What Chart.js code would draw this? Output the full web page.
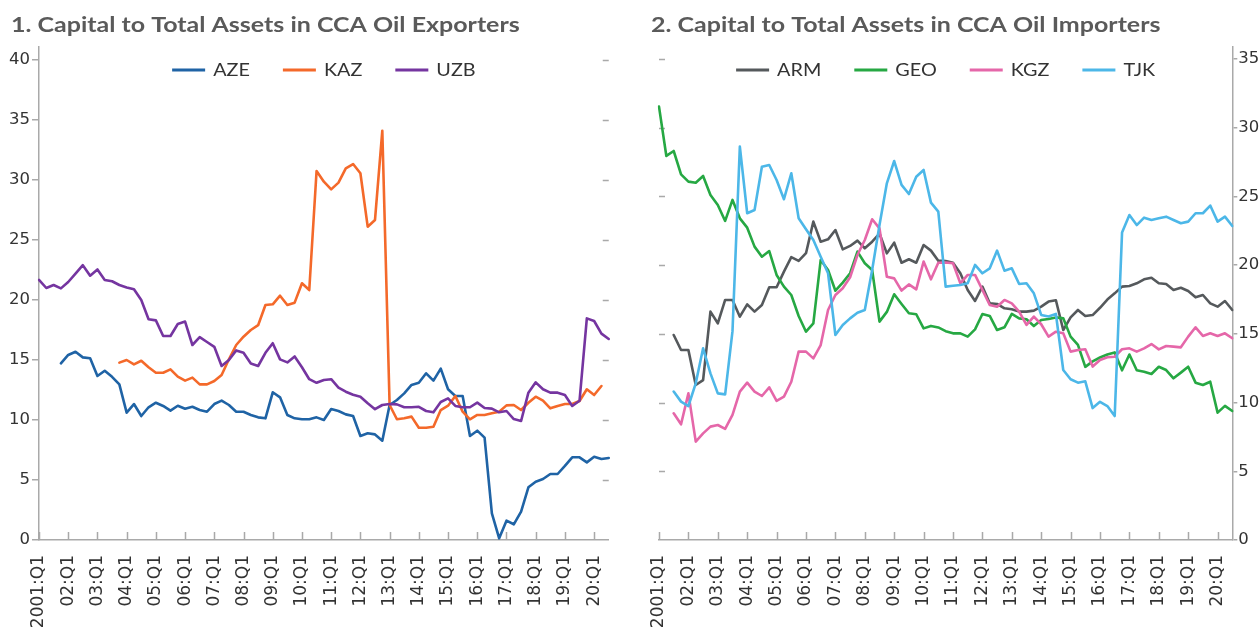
<!DOCTYPE html>
<html><head><meta charset="utf-8">
<script src="https://cdn.jsdelivr.net/npm/chart.js@4.4.1/dist/chart.umd.min.js"></script>
<style>
html,body{margin:0;padding:0;background:#fff;overflow:hidden;}
#wrap{position:relative;width:1260px;height:629px;}
canvas{position:absolute;top:0;}
#c1{left:0;} #c2{left:630px;}
</style></head><body>
<div id="wrap"><canvas id="c1" width="630" height="629"></canvas><canvas id="c2" width="630" height="629"></canvas></div>
<script>
// ---------- categories & tick labels ----------
const QUARTERS = [];
for (let y = 2001; y <= 2020; y++) for (let q = 1; q <= 4; q++) QUARTERS.push(y + ':Q' + q);
QUARTERS.length = 79; // 2001:Q1 .. 2020:Q3
const TICK_LABELS = ['2001:Q1','02:Q1','03:Q1','04:Q1','05:Q1','06:Q1','07:Q1','08:Q1','09:Q1','10:Q1',
  '11:Q1','12:Q1','13:Q1','14:Q1','15:Q1','16:Q1','17:Q1','18:Q1','19:Q1','20:Q1'];
const LEFT_Y_TICKS = [0,5,10,15,20,25,30,35,40];
const RIGHT_Y_TICKS = [0,5,10,15,20,25,30,35];

// ---------- Panel 1: oil exporters ----------
const AZE = [null,null,null,14.72,15.42,15.69,15.22,15.14,13.67,14.1,
  13.6,12.97,10.61,11.33,10.33,11.06,11.44,11.17,10.78,11.19,
  10.94,11.1,10.83,10.69,11.33,11.61,11.25,10.69,10.69,10.42,
  10.22,10.14,12.31,11.89,10.42,10.14,10.06,10.06,10.22,10.0,
  10.92,10.75,10.47,10.33,8.67,8.89,8.8,8.28,11.25,11.67,
  12.22,12.92,13.11,13.89,13.28,14.28,12.56,12.0,12.0,8.67,
  9.11,8.53,2.22,0.14,1.61,1.31,2.36,4.39,4.86,5.08,
  5.5,5.5,6.17,6.89,6.89,6.47,6.94,6.75,6.83];
const KAZ = [null,null,null,null,null,null,null,null,null,null,
  null,14.78,15.0,14.64,14.94,14.39,13.94,13.94,14.22,13.61,
  13.28,13.53,12.97,12.97,13.25,13.75,15.06,16.25,16.94,17.5,
  17.9,19.58,19.64,20.36,19.58,19.78,21.39,20.83,30.75,29.86,
  29.22,29.78,30.97,31.33,30.56,26.11,26.67,34.11,11.25,10.06,
  10.14,10.28,9.36,9.36,9.44,10.83,11.19,12.0,10.69,10.06,
  10.42,10.42,10.56,10.69,11.22,11.25,10.83,11.44,11.94,11.61,
  10.97,11.17,11.33,11.33,11.58,12.56,12.08,12.83,null];
const UZB = [21.67,21.0,21.25,20.97,21.5,22.2,22.9,22.03,22.55,21.67,
  21.56,21.25,21.05,20.9,20.0,18.4,18.3,17.0,17.0,18.0,
  18.2,16.25,16.9,16.5,16.1,14.5,15.0,15.8,15.6,14.7,
  14.5,15.6,16.4,15.05,14.8,15.3,14.4,13.4,13.1,13.33,
  13.4,12.7,12.36,12.1,11.94,11.39,10.9,11.25,11.33,11.3,
  11.06,11.06,11.1,10.75,10.64,11.5,11.8,11.17,11.06,11.06,
  11.45,11.0,10.95,10.64,10.75,10.08,9.92,12.28,13.14,12.56,
  12.28,12.28,12.08,11.17,11.6,18.47,18.25,17.2,16.75];

// ---------- Panel 2: oil importers ----------
const ARM = [null,null,14.92,13.83,13.83,11.28,11.64,16.62,15.77,17.47,
  17.47,16.25,17.15,16.62,17.1,18.39,18.39,19.53,20.58,20.31,
  20.87,23.17,21.71,21.88,22.56,21.15,21.4,21.79,21.23,21.71,
  22.3,20.86,21.64,20.18,20.43,20.18,21.47,21.06,20.33,20.3,
  20.18,19.41,18.2,17.4,18.44,17.22,17.18,16.86,16.79,16.62,
  16.62,16.69,16.98,17.35,17.45,15.28,16.2,16.74,16.3,16.37,
  16.9,17.5,17.95,18.44,18.49,18.68,18.97,19.09,18.68,18.63,
  18.2,18.36,18.12,17.66,17.83,17.22,16.98,17.39,16.74];
const GEO = [31.54,27.95,28.31,26.61,26.08,26.0,26.49,25.11,24.38,23.22,
  24.75,23.41,22.73,21.35,20.62,21.03,19.29,18.44,17.83,16.3,
  15.16,15.77,20.38,19.65,18.14,18.73,19.41,20.99,20.14,19.65,
  15.89,16.6,17.88,17.18,16.5,16.43,15.4,15.58,15.47,15.2,
  15.04,15.04,14.8,15.33,16.45,16.31,15.28,15.48,16.45,16.13,
  16.06,15.57,16.01,16.08,16.2,16.13,14.8,14.2,12.6,13.0,
  13.28,13.5,13.65,12.35,13.5,12.35,12.25,12.08,12.61,12.37,
  11.77,12.18,12.61,11.45,11.28,11.52,9.27,9.76,9.39];
const KGZ = [null,null,9.22,8.42,10.67,7.16,7.76,8.25,8.37,8.08,
  9.1,10.8,11.45,10.8,10.48,11.11,10.12,10.43,11.52,13.71,
  13.71,13.22,14.19,16.74,17.83,18.32,19.12,20.74,21.83,23.34,
  22.68,19.16,19.04,18.15,18.6,18.24,20.26,18.97,20.18,20.2,
  20.14,18.68,19.29,19.29,18.2,17.1,16.98,17.47,17.22,16.62,
  15.65,16.26,15.7,14.8,15.16,15.04,13.71,13.83,13.88,12.62,
  13.1,13.3,13.34,13.88,13.95,13.71,13.95,14.26,13.87,14.12,
  14.07,14.02,14.8,15.48,14.85,15.04,14.85,15.04,14.68];
const TJK = [null,null,10.8,10.07,9.75,11.4,13.95,12.13,10.67,10.6,
  15.2,28.63,23.78,24.02,27.17,27.29,26.2,24.8,26.69,23.41,
  22.61,21.83,20.62,19.41,14.92,15.65,16.13,16.54,16.74,19.65,
  22.93,25.96,27.58,25.84,25.18,26.44,26.93,24.55,23.9,18.44,
  18.5,18.56,18.68,20.02,19.41,19.77,21.06,19.6,19.77,18.63,
  18.68,17.95,16.38,16.26,16.45,12.37,11.7,11.45,11.55,9.6,
  10.06,9.75,9.02,22.37,23.65,22.92,23.46,23.29,23.41,23.53,
  23.29,23.05,23.17,23.78,23.78,24.34,23.17,23.53,22.85];

// ---------- styling ----------
const FONT = 'Lato';
const TICK_FONT = 'DejaVu Sans';
const AXIS = '#a9a9a9';
const TEXT = '#333333';
const STRETCH = 1.19; // glyphs in the reference are wide
Chart.defaults.font.family = TICK_FONT;

function wideText(ctx, text, x, y, sx) {
  ctx.save();
  ctx.translate(x, y);
  ctx.scale(sx, 1);
  ctx.fillText(text, 0, 0);
  ctx.restore();
}

const deco = {
  id: 'panelDeco',
  beforeDatasetsDraw(chart, args, o) {
    const {ctx, chartArea: a, scales} = chart;
    const xs = scales.x, ys = scales.y;
    ctx.save();
    ctx.strokeStyle = AXIS; ctx.lineWidth = 1.5;
    ctx.beginPath();
    for (let i = 0; i < QUARTERS.length; i += 4) {
      const x = Math.round(xs.getPixelForValue(i)) + 0.5;
      ctx.moveTo(x, a.bottom); ctx.lineTo(x, a.bottom - 8);
    }
    o.ticks.forEach(v => {
      if (v === 0) return;
      const y = Math.round(ys.getPixelForValue(v)) + 0.5;
      if (o.side === 'right') { ctx.moveTo(a.right - 6, y); ctx.lineTo(a.right, y); }
      else { ctx.moveTo(a.left, y); ctx.lineTo(a.left + 6, y); }
    });
    ctx.stroke();
    ctx.restore();
  },
  afterDraw(chart, args, o) {
    const {ctx, chartArea: a} = chart;
    ctx.save();
    // title
    ctx.font = 'bold 21px ' + FONT;
    ctx.fillStyle = '#5a5a5a';
    ctx.textBaseline = 'alphabetic';
    ctx.textAlign = 'left';
    wideText(ctx, o.title, o.titleX, 32, STRETCH);
    // legend
    ctx.font = '16.5px ' + FONT;
    const items = chart.data.datasets.map(d => ({t: d.label, c: d.borderColor, w: ctx.measureText(d.label).width * 1.2}));
    const L = 33, G = 8, S = 33;
    const total = items.reduce((s, it) => s + L + G + it.w, 0) + S * (items.length - 1);
    let x = (a.left + a.right) / 2 - total / 2;
    const y = 70;
    ctx.textBaseline = 'middle';
    items.forEach(it => {
      ctx.strokeStyle = it.c; ctx.lineWidth = 3; ctx.lineCap = 'butt';
      ctx.beginPath(); ctx.moveTo(x, y); ctx.lineTo(x + L, y); ctx.stroke();
      ctx.fillStyle = TEXT;
      wideText(ctx, it.t, x + L + G, y + 1, 1.2);
      x += L + G + it.w + S;
    });
    ctx.restore();
  }
};

function ds(label, data, color, order) {
  return {label, data, borderColor: color, backgroundColor: color, borderWidth: 2.6,
    pointRadius: 0, pointHoverRadius: 0, tension: 0, fill: false, spanGaps: false,
    borderJoinStyle: 'round', borderCapStyle: 'round', order};
}

function makeChart(id, datasets, side, yMax, yTicks, title, titleX, padding, yWidth, tickLen, tickPad) {
  return new Chart(document.getElementById(id), {
    type: 'line',
    data: {labels: QUARTERS, datasets},
    plugins: [deco],
    options: {
      responsive: false, animation: false, devicePixelRatio: 1,
      events: [],
      layout: {padding},
      plugins: {legend: {display: false}, tooltip: {enabled: false}, title: {display: false},
        panelDeco: {side: side === 'left' ? 'right' : 'left', ticks: yTicks, title, titleX}},
      scales: {
        x: {
          type: 'category', offset: false,
          grid: {display: true, drawOnChartArea: false, drawTicks: false, color: AXIS},
          border: {display: true, color: AXIS, width: 1.5},
          ticks: {autoSkip: false, minRotation: 90, maxRotation: 90, padding: 15,
            color: TEXT, font: {size: 17},
            callback: (v, i) => (i % 4 === 0 ? TICK_LABELS[i / 4] : null)},
          afterFit: s => { s.height = 89; }
        },
        y: {
          position: side, min: 0, max: yMax,
          afterBuildTicks: s => { s.ticks = yTicks.map(v => ({value: v})); },
          grid: {display: true, drawOnChartArea: false, drawTicks: true, tickLength: tickLen,
            tickColor: AXIS, color: AXIS, lineWidth: 1.5},
          border: {display: true, color: AXIS, width: 1.5},
          ticks: {padding: tickPad, color: TEXT, font: {size: 16.5}},
          afterFit: s => { s.width = yWidth; }
        }
      }
    }
  });
}

makeChart('c1', [
  ds('AZE', AZE, '#1f63a5', 3),
  ds('KAZ', KAZ, '#f4692a', 2),
  ds('UZB', UZB, '#7535a0', 1)
], 'left', 41.1, LEFT_Y_TICKS, '1. Capital to Total Assets in CCA Oil Exporters', 11,
  {top: 46.8, left: 0, right: 18, bottom: 0}, 39, 7, 2);

makeChart('c2', [
  ds('ARM', ARM, '#55595c', 4),
  ds('GEO', GEO, '#26a843', 3),
  ds('KGZ', KGZ, '#e567a9', 2),
  ds('TJK', TJK, '#4cb7e8', 1)
], 'right', 35.9, RIGHT_Y_TICKS, '2. Capital to Total Assets in CCA Oil Importers', 21,
  {top: 46.7, left: 29, right: 0, bottom: 0}, 27.7, 5, 1);
</script></body></html>
